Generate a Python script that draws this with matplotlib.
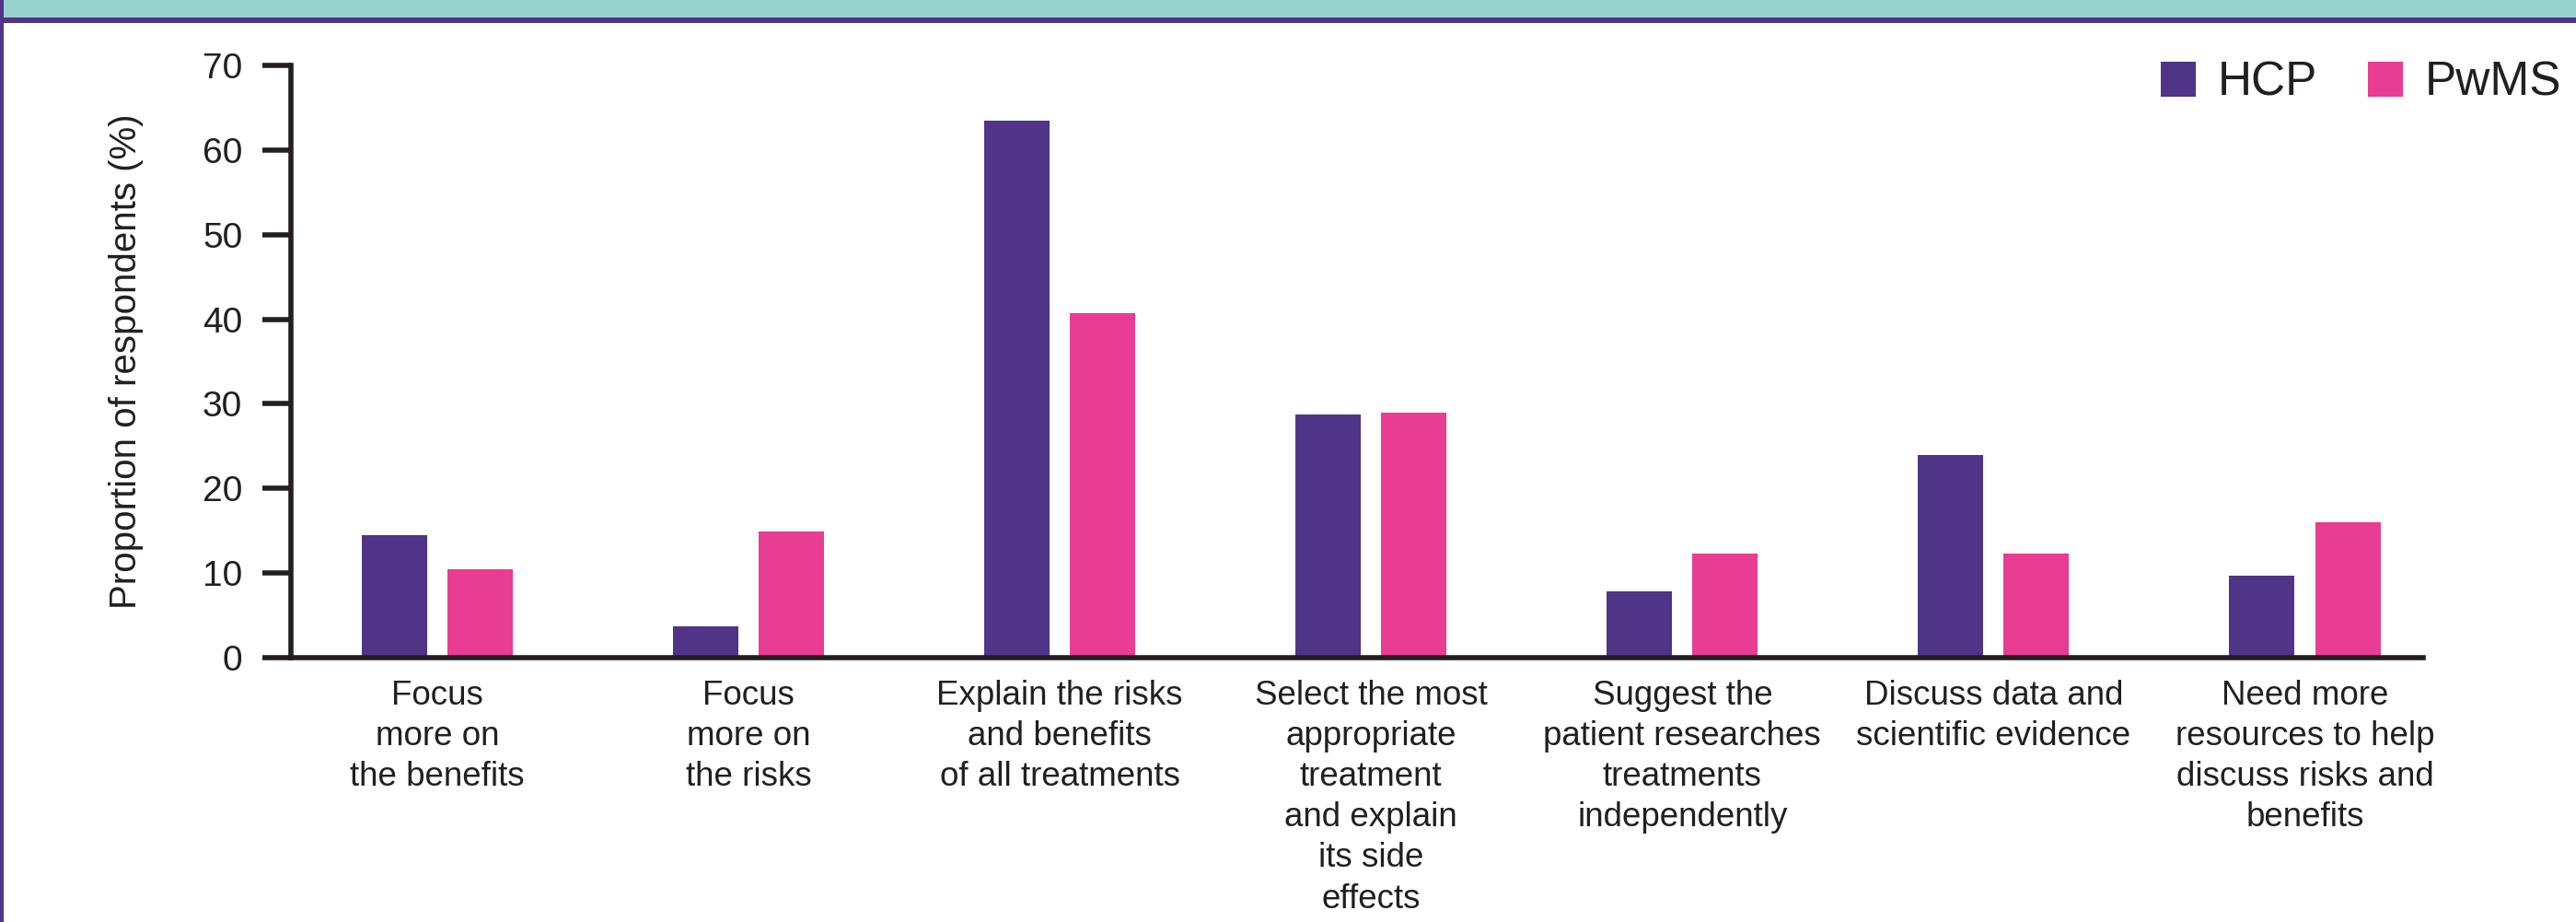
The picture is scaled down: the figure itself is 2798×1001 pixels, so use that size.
import numpy as np
import matplotlib
matplotlib.use("Agg")
import matplotlib.pyplot as plt
from matplotlib.patches import Rectangle, Patch

plt.rcParams['font.family'] = ['Liberation Sans', 'DejaVu Sans']

# data
categories = [
    "Focus\nmore on\nthe benefits",
    "Focus\nmore on\nthe risks",
    "Explain the risks\nand benefits\nof all treatments",
    "Select the most\nappropriate\ntreatment\nand explain\nits side\neffects",
    "Suggest the\npatient researches\ntreatments\nindependently",
    "Discuss data and\nscientific evidence",
    "Need more\nresources to help\ndiscuss risks and\nbenefits",
]
hcp = [14.5, 3.7, 63.5, 28.7, 7.8, 23.9, 9.7]
pwms = [10.4, 14.9, 40.7, 29.0, 12.3, 12.3, 16.0]
series_names = ["HCP", "PwMS"]
y_ticks = [0, 10, 20, 30, 40, 50, 60, 70]

purple = "#4F3488"
pink = "#E93C93"
teal = "#97D2CF"
ink = "#231F20"

W, H = 2798, 1001
fig = plt.figure(figsize=(W / 100, H / 100), dpi=100)

# frame decorations: teal band, purple rule, purple left edge
fig.patches.append(Rectangle((0, 1 - 19 / H), 1, 19 / H, transform=fig.transFigure,
                             facecolor=teal, edgecolor='none', zorder=0))
fig.patches.append(Rectangle((0, 1 - 25 / H), 1, 6 / H, transform=fig.transFigure,
                             facecolor=purple, edgecolor='none', zorder=1))
fig.patches.append(Rectangle((0, 0), 4 / W, 1, transform=fig.transFigure,
                             facecolor=purple, edgecolor='none', zorder=2))

ax = fig.add_axes([316 / W, 287 / H, (2632 - 316) / W, (930 - 287) / H])

x = np.arange(len(categories))
bw = 0.21
off = 0.1376
ax.bar(x - off, hcp, width=bw, color=purple, label=series_names[0], zorder=2)
ax.bar(x + off, pwms, width=bw, color=pink, label=series_names[1], zorder=2)

ax.set_xlim(-0.47, len(categories) - 1 + 0.38)
ax.set_ylim(0, 70)
ax.set_yticks(y_ticks)
ax.set_xticks(x)
ax.set_xticklabels(categories, fontsize=26.5, color=ink, linespacing=1.34, va='top')

for s in ['top', 'right']:
    ax.spines[s].set_visible(False)
for s in ['left', 'bottom']:
    ax.spines[s].set_linewidth(4)
    ax.spines[s].set_color(ink)
    ax.spines[s].set_capstyle('projecting')

ax.tick_params(axis='y', direction='out', length=22, width=4, color=ink,
               labelsize=28, labelcolor=ink, pad=16)
ax.tick_params(axis='x', length=0, pad=17)

ax.set_ylabel("Proportion of respondents (%)", fontsize=29, color=ink, labelpad=46)

handles = [Patch(facecolor=purple, edgecolor='none'), Patch(facecolor=pink, edgecolor='none')]
fig.legend(handles, series_names, loc='upper right', bbox_to_anchor=(2782 / W, 1 - 66 / H),
           ncol=2, frameon=False, fontsize=37, handlelength=0.74, handleheight=0.74,
           handletextpad=0.45, columnspacing=1.08, borderpad=0, borderaxespad=0,
           labelcolor=ink)

fig.savefig("out.png", dpi=100)
